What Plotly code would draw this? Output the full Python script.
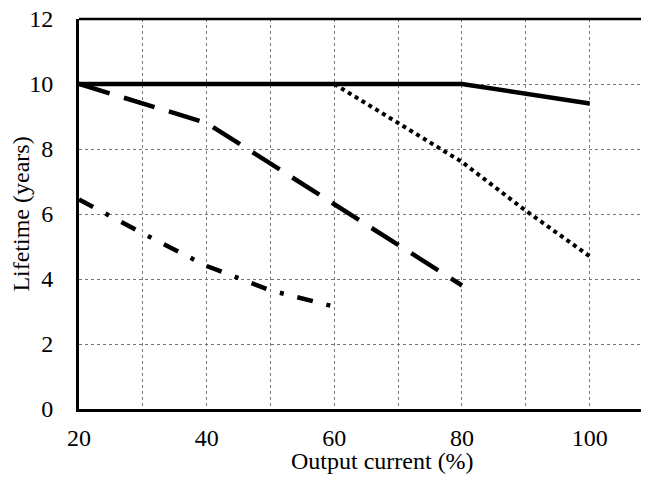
import plotly.graph_objects as go

solid_x = [20, 80, 100]
solid_y = [10, 10, 9.4]

dotted_x = [60, 70, 80, 90, 100]
dotted_y = [10, 8.8, 7.6, 6.1, 4.7]

dashed_x = [20, 40, 60, 80]
dashed_y = [10, 8.8, 6.3, 3.8]

dashdot_x = [20, 30, 40, 50, 60]
dashdot_y = [6.45, 5.4, 4.4, 3.65, 3.15]

x_ticks = [20, 40, 60, 80, 100]
y_ticks = [0, 2, 4, 6, 8, 10, 12]

fig = go.Figure()
fig.add_trace(go.Scatter(x=solid_x, y=solid_y, mode="lines",
                         line=dict(color="black", width=4.5)))
fig.add_trace(go.Scatter(x=dotted_x, y=dotted_y, mode="lines",
                         line=dict(color="black", width=4, dash="4px,4px")))
fig.add_trace(go.Scatter(x=dashed_x, y=dashed_y, mode="lines",
                         line=dict(color="black", width=4.5, dash="32px,15px")))
fig.add_trace(go.Scatter(x=dashdot_x, y=dashdot_y, mode="lines",
                         line=dict(color="black", width=4.5, dash="16px,14px,4px,14px")))

font = dict(family="Liberation Serif, Times New Roman, serif", size=24, color="black")

fig.update_layout(
    width=641, height=469,
    margin=dict(l=71, r=0, t=11, b=68),
    paper_bgcolor="white", plot_bgcolor="white",
    showlegend=False,
    font=font,
    xaxis=dict(
        range=[20, 109.3], tickvals=x_ticks,
        showgrid=True, gridcolor="#777777", griddash="dot", gridwidth=1,
        minor=dict(tickvals=[30, 50, 70, 90], showgrid=True, gridcolor="#777777", griddash="dot", gridwidth=1),
        showline=True, linecolor="black", linewidth=2.5, mirror=False,
        zeroline=False, ticks="", ticklabelstandoff=5, automargin=False,
        ticklabeloverflow="allow",
        tickfont=font,
    ),
    yaxis=dict(
        range=[0, 12], tickvals=y_ticks,
        showgrid=True, gridcolor="#777777", griddash="dot", gridwidth=1,
        showline=True, linecolor="black", linewidth=3,
        zeroline=False, ticks="", ticklabelstandoff=18, automargin=False,
        ticklabeloverflow="allow",
        title=dict(text="Lifetime (years)", font=font, standoff=12),
        tickfont=font,
    ),
    shapes=[dict(type="line", xref="paper", yref="paper", x0=0, x1=1, y0=1, y1=1,
                 line=dict(color="black", width=2.5))],
    annotations=[dict(text="Output current (%)", xref="paper", yref="paper",
                      x=0.533, y=0, xanchor="center", yanchor="middle",
                      yshift=-52, showarrow=False, font=font)],
)

fig.write_html("out.html")
